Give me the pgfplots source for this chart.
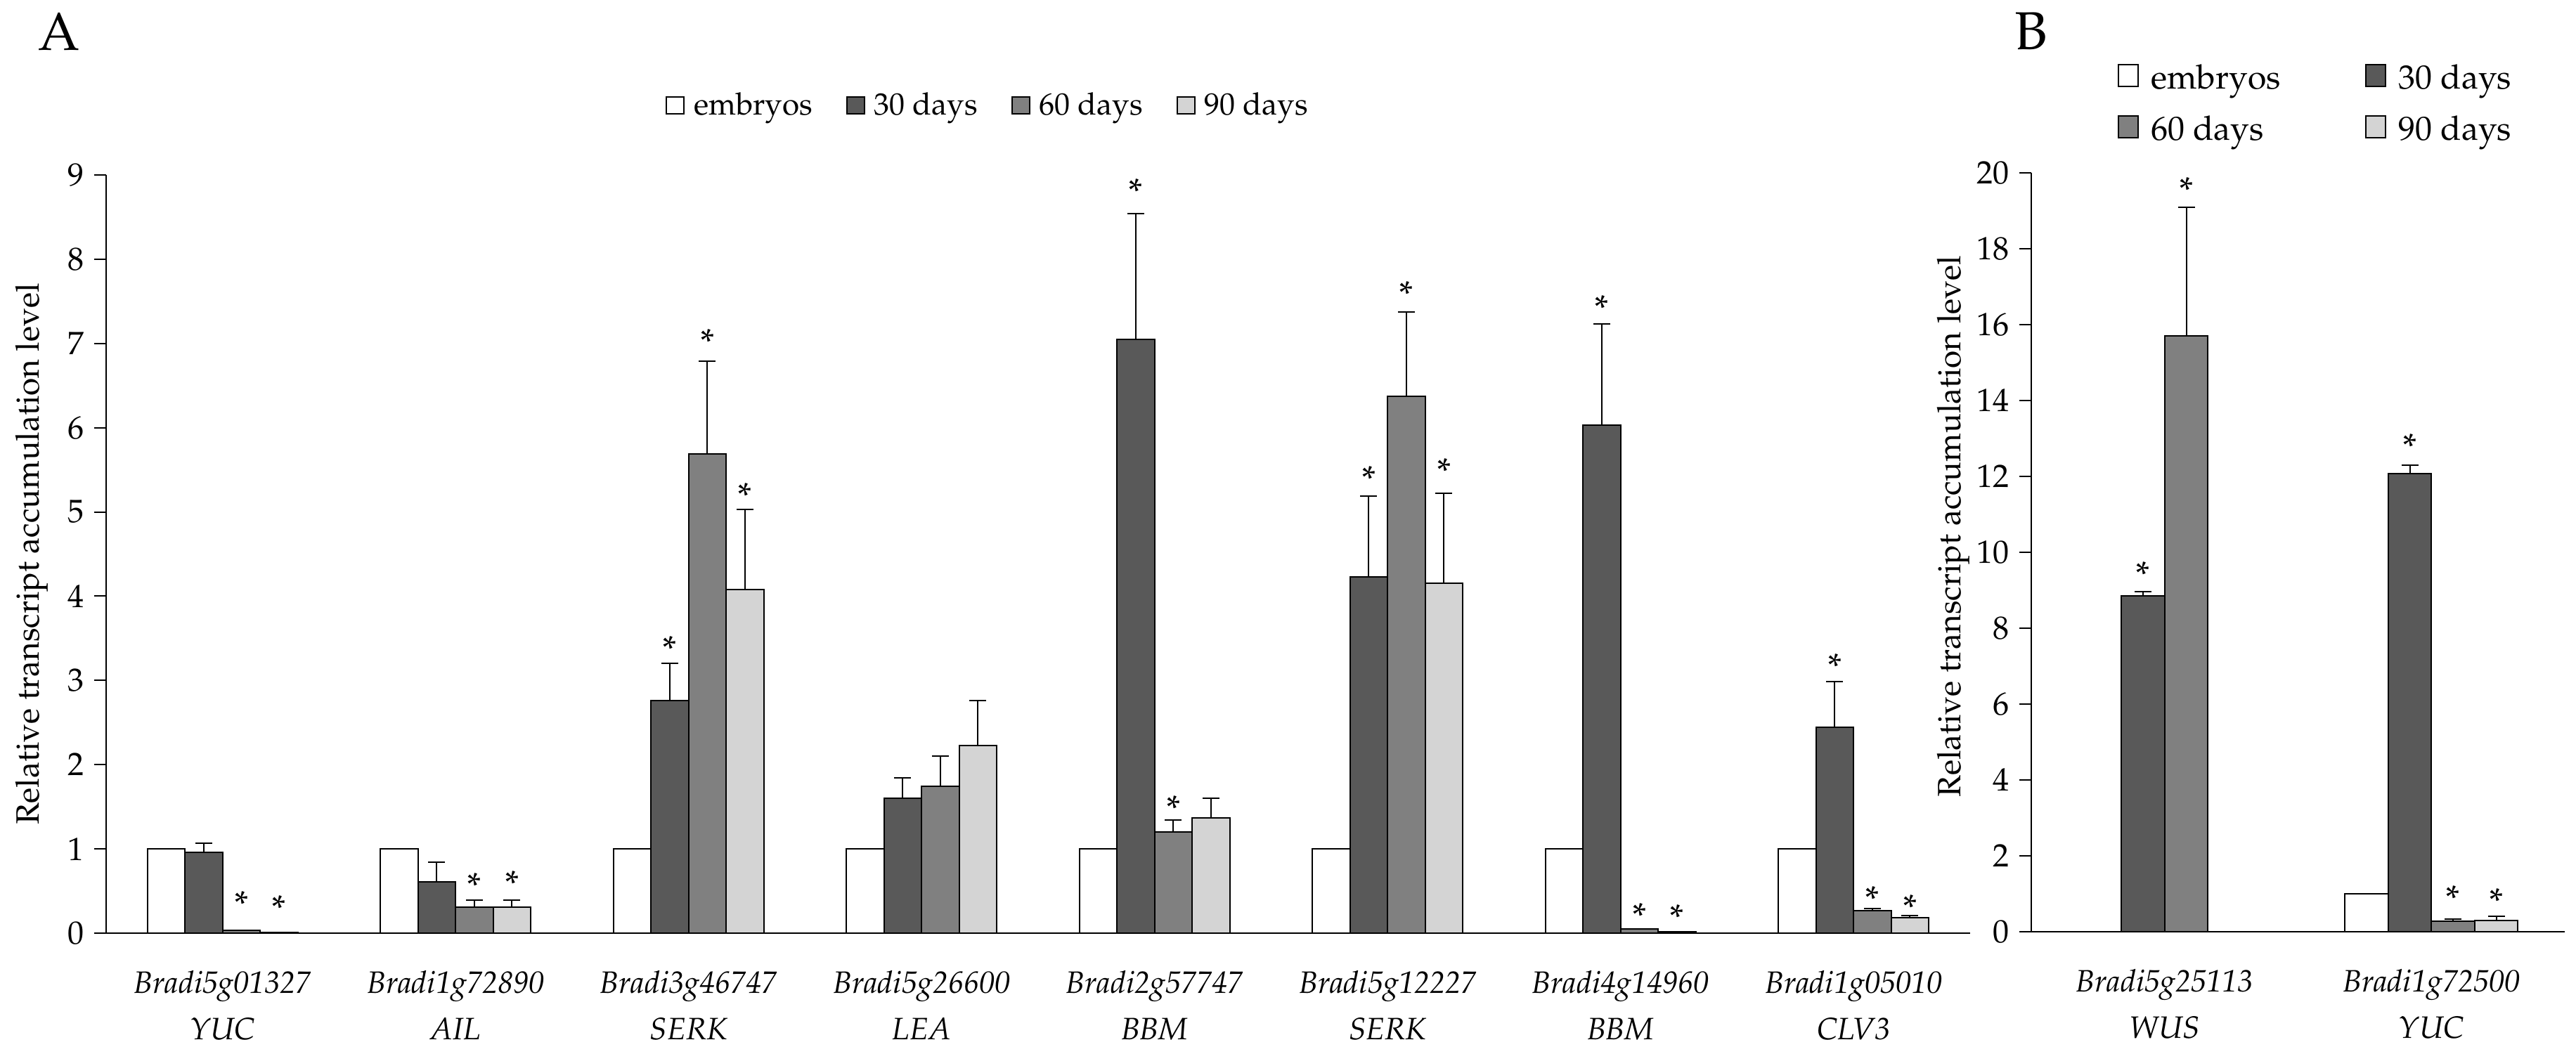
\documentclass[border=0pt]{standalone}
\usepackage[T1]{fontenc}
\usepackage{mathpazo}
\usepackage{pgfplots}
\pgfplotsset{compat=1.18}
\usepackage{pgfplotstable}

\definecolor{d30}{RGB}{89,89,89}
\definecolor{d60}{RGB}{128,128,128}
\definecolor{d90}{RGB}{212,212,212}

% panel A: means and upper errors
\pgfplotstableread{
x e0 v30 p30 v60 p60 v90 p90
0 1 0.96 0.11 0.03 0 0.01 0
1 1 0.61 0.23 0.31 0.08 0.31 0.08
2 1 2.76 0.44 5.69 1.10 4.08 0.95
3 1 1.60 0.24 1.74 0.36 2.23 0.53
4 1 7.05 1.49 1.20 0.14 1.37 0.23
5 1 4.23 0.96 6.37 1.00 4.15 1.07
6 1 6.03 1.20 0.05 0 0.02 0
7 1 2.44 0.55 0.27 0.02 0.18 0.03
}\tabA

% panel B
\pgfplotstableread{
x e0 v30 p30 v60 p60 v90 p90
0 nan 8.85 0.12 15.71 3.39 nan nan
1 1.00 12.07 0.22 0.27 0.07 0.29 0.11
}\tabB

% asterisk positions (bar centre, height)
\pgfplotstableread{
x y
0.0807 0.43
0.2421 0.38
1.0807 0.65
1.2421 0.67
1.9193 3.46
2.0807 7.10
2.2421 5.28
3.9193 8.89
4.0807 1.56
4.9193 5.48
5.0807 7.67
5.2421 5.57
5.9193 7.50
6.0807 0.29
6.2421 0.27
6.9193 3.25
7.0807 0.49
7.2421 0.39
}\starA

\pgfplotstableread{
x y
-0.081 9.6
0.081 19.73
0.919 12.98
1.081 1.07
1.243 1.00
}\starB

\pgfplotsset{
  panel/.style={
    scale only axis,
    axis x line*=bottom, axis y line*=left,
    axis line style={-, line width=0.55pt},
    tick align=outside, major tick length=4.25pt,
    ytick style={black, line width=0.5pt},
    xtick style={draw=none},
    yticklabel style={font=\fontsize{11.5}{13}\selectfont},
    xticklabel style={font=\fontsize{11}{16.5}\selectfont\itshape, align=center, inner sep=0pt, yshift=-9pt},
    ylabel style={font=\fontsize{11.5}{13}\selectfont, anchor=base},
    ymin=0, xmin=-0.5,
    ybar=0pt,
    every axis plot/.append style={draw=black, line width=0.5pt},
    error bars/error bar style={line width=0.5pt, black},
    error bars/error mark options={rotate=90, line width=0.5pt, mark size=3pt, black},
    legend style={draw=none, fill=none, anchor=center},
    legend cell align=left,
  },
  overlay/.style={scale only axis, hide axis, clip=false, ymin=0, xmin=-0.5},
  stars/.style={draw=none, mark=none, nodes near coords={*},
    nodes near coords style={font=\fontsize{13}{15}\selectfont, anchor=center, yshift=-2.5pt, inner sep=0pt}},
}

\begin{document}
\begin{tikzpicture}
\useasboundingbox (0,0) rectangle (916.25pt,375pt);

\node[font=\fontsize{19}{22}\selectfont] at (21pt,363.75pt) {A};
\node[font=\fontsize{19}{22}\selectfont] at (722.4pt,363.9pt) {B};

\begin{axis}[panel,
  at={(37.75pt,43pt)}, anchor=south west,
  width=663pt, height=269.75pt,
  xmax=7.5, ymax=9,
  bar width=13.375pt,
  legend image code/.code={\draw[#1, draw=black, line width=0.5pt] (0pt,-2.75pt) rectangle (6.25pt,3.25pt); \path (7.5pt,0pt);},
  ytick={0,1,...,9},
  xtick={0,...,7},
  xticklabels={{Bradi5g01327\\YUC},{Bradi1g72890\\AIL},{Bradi3g46747\\SERK},{Bradi5g26600\\LEA},
               {Bradi2g57747\\BBM},{Bradi5g12227\\SERK},{Bradi4g14960\\BBM},{Bradi1g05010\\CLV3}},
  ylabel={Relative transcript accumulation level},
  ylabel style={at={(axis description cs:-0.0362,0.5)}},
  legend columns=4,
  legend style={at={(axis description cs:0.474,1.091)}, font=\fontsize{11}{13}\selectfont,
    /tikz/every even column/.append style={column sep=10pt}},
]
\addplot[fill=white] table[x=x, y=e0] {\tabA};
\addplot[fill=d30, error bars/.cd, y dir=plus, y explicit] table[x=x, y=v30, y error=p30] {\tabA};
\addplot[fill=d60, error bars/.cd, y dir=plus, y explicit] table[x=x, y=v60, y error=p60] {\tabA};
\addplot[fill=d90, error bars/.cd, y dir=plus, y explicit] table[x=x, y=v90, y error=p90] {\tabA};
\legend{embryos,30 days,60 days,90 days}
\end{axis}
\begin{axis}[overlay,
  at={(37.75pt,43pt)}, anchor=south west,
  width=663pt, height=269.75pt,
  xmax=7.5, ymax=9]
\addplot[stars] table[x=x, y=y] {\starA};
\end{axis}

\begin{axis}[panel,
  at={(722.5pt,43.5pt)}, anchor=south west,
  width=189.75pt, height=270pt,
  xmax=1.5, ymax=20,
  bar width=15.375pt,
  legend image code/.code={\draw[#1, draw=black, line width=0.5pt] (0pt,-2.75pt) rectangle (7pt,5pt); \path (9.5pt,0pt);},
  ytick={0,2,...,20},
  xtick={0,1},
  xticklabels={{Bradi5g25113\\WUS},{Bradi1g72500\\YUC}},
  ylabel={Relative transcript accumulation level},
  ylabel style={at={(axis description cs:-0.133,0.534)}},
  legend columns=2,
  legend style={at={(axis description cs:0.536,1.090)}, font=\fontsize{12}{14}\selectfont,
    /tikz/every even column/.append style={column sep=28pt}, /tikz/row sep=4pt},
]
\addplot[fill=white] table[x=x, y=e0] {\tabB};
\addplot[fill=d30, error bars/.cd, y dir=plus, y explicit] table[x=x, y=v30, y error=p30] {\tabB};
\addplot[fill=d60, error bars/.cd, y dir=plus, y explicit] table[x=x, y=v60, y error=p60] {\tabB};
\addplot[fill=d90, error bars/.cd, y dir=plus, y explicit] table[x=x, y=v90, y error=p90] {\tabB};
\legend{embryos,30 days,60 days,90 days}
\end{axis}
\begin{axis}[overlay,
  at={(722.5pt,43.5pt)}, anchor=south west,
  width=189.75pt, height=270pt,
  xmax=1.5, ymax=20]
\addplot[stars] table[x=x, y=y] {\starB};
\end{axis}
\end{tikzpicture}
\end{document}
